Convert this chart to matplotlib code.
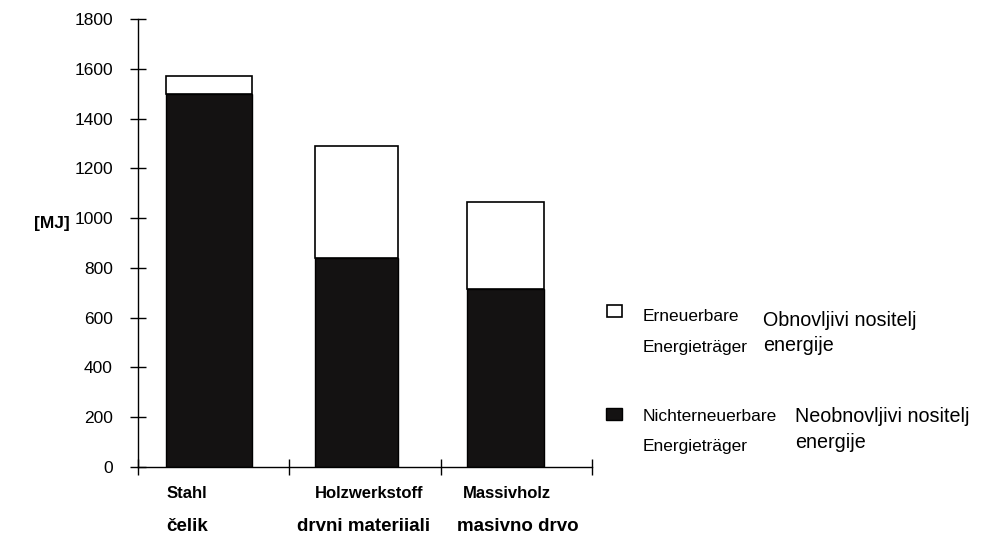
import matplotlib.pyplot as plt
import numpy as np
from matplotlib.patches import Rectangle

plt.rcParams['font.family'] = ['Liberation Sans', 'DejaVu Sans']

materials_de = ["Stahl", "Holzwerkstoff", "Massivholz"]
materials_hr = ["čelik", "drvni materiiali", "masivno drvo"]
non_renewable = [1500, 840, 715]
renewable = [70, 450, 350]
yticks = [0, 200, 400, 600, 800, 1000, 1200, 1400, 1600, 1800]

fig = plt.figure(figsize=(9.85, 5.35), dpi=100)
ax = fig.add_axes([0.140, 0.127, 0.461, 0.8375])

# bars sit left of the middle of their category slot
x = np.arange(len(materials_de))
left = x + np.array([0.185, 0.172, 0.172])
widths = [0.57, 0.545, 0.51]
ax.bar(left, non_renewable, width=widths, align='edge', color='#141212',
       edgecolor='black', linewidth=1)
ax.bar(left, renewable, width=widths, align='edge', bottom=non_renewable,
       color='white', edgecolor='black', linewidth=1.2)

ax.set_xlim(0, 3)
ax.set_ylim(0, 1800)
ax.set_yticks(yticks)
ax.set_xticks([0, 1, 2, 3])
ax.set_xticklabels([])
ax.tick_params(axis='y', direction='inout', length=12, width=1, pad=12, labelsize=12.5)
ax.tick_params(axis='x', direction='inout', length=12, width=1)
for s in ['top', 'right']:
    ax.spines[s].set_visible(False)
for s in ['left', 'bottom']:
    ax.spines[s].set_linewidth(1)

fig.text(0.053, 0.583, "[MJ]", fontsize=12.5, fontweight='bold', ha='center', va='center')

# category labels under the axis
de_x = [0.19, 1.17, 2.15]
hr_x = [0.19, 1.05, 2.11]
for i in range(len(materials_de)):
    ax.text(de_x[i], -105, materials_de[i], fontsize=12, fontweight='bold',
            ha='left', va='center')
    ax.text(hr_x[i], -240, materials_hr[i], fontsize=13.5, fontweight='bold',
            ha='left', va='center')

# legend
fig.patches.append(Rectangle((0.616, 0.407), 0.015, 0.022, transform=fig.transFigure,
                             facecolor='white', edgecolor='black', linewidth=1.2))
fig.patches.append(Rectangle((0.615, 0.215), 0.016, 0.023, transform=fig.transFigure,
                             facecolor='#141212', edgecolor='black', linewidth=1))
fig.text(0.652, 0.409, "Erneuerbare", fontsize=12.5, va='center')
fig.text(0.652, 0.350, "Energieträger", fontsize=12.5, va='center')
fig.text(0.775, 0.400, "Obnovljivi nositelj", fontsize=14.2, va='center')
fig.text(0.775, 0.355, "energije", fontsize=14.2, va='center')
fig.text(0.652, 0.222, "Nichterneuerbare", fontsize=12.5, va='center')
fig.text(0.652, 0.166, "Energieträger", fontsize=12.5, va='center')
fig.text(0.807, 0.221, "Neobnovljivi nositelj", fontsize=14.2, va='center')
fig.text(0.807, 0.172, "energije", fontsize=14.2, va='center')

fig.savefig("out.png", dpi=100)
